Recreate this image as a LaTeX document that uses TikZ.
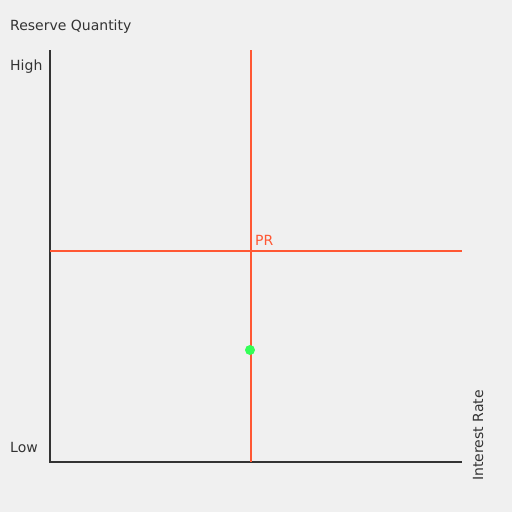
\documentclass[tikz,border=0pt]{standalone}
\usepackage{fontspec}
\setmainfont{DejaVu Sans}
\usepackage{xcolor}
\usetikzlibrary{positioning,calc}
\definecolor{BgGray}{HTML}{F0F0F0}
\definecolor{TextDark}{HTML}{333333}
\definecolor{PolicyRed}{HTML}{FF5733}
\definecolor{DotGreen}{HTML}{33FF57}
\begin{document}
\begin{tikzpicture}[x=1pt,y=-1pt,
    every node/.style={font=\fontsize{14}{16}\selectfont, text=TextDark, inner sep=0pt},
    axis/.style={TextDark, line width=2pt},
    pr/.style={PolicyRed, line width=2pt}]
  \fill[BgGray] (0,0) rectangle (512,512);
  \useasboundingbox (0,0) rectangle (512,512);
  % axes
  \coordinate (o) at (50,462);
  \coordinate (ytop) at (50,50);
  \coordinate (xend) at (462,462);
  \draw[axis] (ytop) -- (o) -- (xend);
  % policy rate lines
  \coordinate (vtop) at (250.5,50);
  \coordinate (vbot) at (250.5,462);
  \coordinate (hl) at (50,250.5);
  \coordinate (hr) at (462,250.5);
  \draw[pr] (vtop) -- (vbot);
  \draw[pr] (hl) -- (hr);
  \node[anchor=base west, text=PolicyRed] (prlab) at (255,245) {PR};
  \fill[DotGreen] (250,350) circle (5);
  % labels
  \node[anchor=base west] (ylab) at (10,30) {Reserve Quantity};
  \node[anchor=base west] (high) at (10,70) {High};
  \node[anchor=base west] (low) at (10,452) {Low};
  \node[anchor=base west, rotate=90] (xlab) at (483,481) {Interest Rate};
\end{tikzpicture}
\end{document}
